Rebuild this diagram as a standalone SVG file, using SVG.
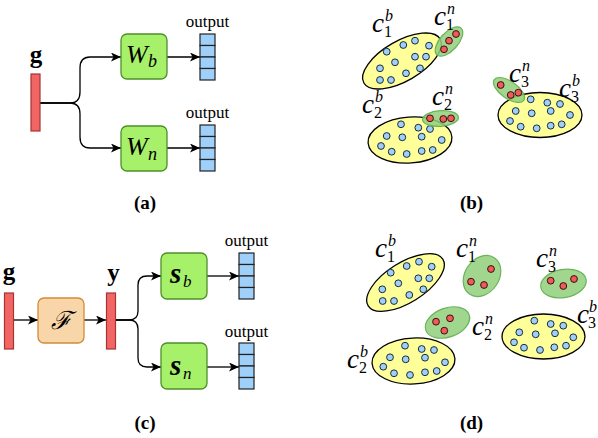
<svg xmlns="http://www.w3.org/2000/svg" width="598" height="438" viewBox="0 0 598 438">
<defs>
<style>
.bar{fill:#f26565;stroke:#a83232;stroke-width:1.2}
.gbox{fill:#a6f06a;stroke:#4f8f2a;stroke-width:1.3}
.obox{fill:#f9d6aa;stroke:#d38b36;stroke-width:1.3}
.cell{fill:#9fd0fa;stroke:#222;stroke-width:1.2}
.edge{fill:none;stroke:#000;stroke-width:1.3}
.yel{fill:#ffff99;stroke:#000;stroke-width:1.3}
.grn{fill:#8fcf7a;fill-opacity:0.85;stroke:#6bb35a;stroke-width:1.2}
.bd{fill:#9fd0fa;stroke:#1a2a40;stroke-width:1}
.rd{fill:#ef5a5a;stroke:#3a1010;stroke-width:1}
.lbl{font-family:"Liberation Serif",serif;fill:#000}
.out{font-family:"Liberation Serif",serif;font-size:17px;text-anchor:middle}
.cap{font-family:"Liberation Serif",serif;font-size:19px;font-weight:bold;text-anchor:middle}
.vec{font-family:"Liberation Serif",serif;font-size:25px;font-weight:bold;text-anchor:middle}
.c{font-family:"Liberation Serif",serif;font-size:27px;font-style:italic}
.sup{font-family:"Liberation Serif",serif;font-size:16px;font-style:italic}
.sub{font-family:"Liberation Serif",serif;font-size:16px}
</style>
<marker id="ar" markerUnits="userSpaceOnUse" markerWidth="11" markerHeight="9" refX="10" refY="4.5" orient="auto">
<path d="M0,0 L10,4.5 L0,9 L2.5,4.5 z" fill="#000"/>
</marker>
<g id="col">
<rect class="cell" x="0" y="0" width="15" height="11.5"/>
<rect class="cell" x="0" y="11.5" width="15" height="11.5"/>
<rect class="cell" x="0" y="23" width="15" height="11.5"/>
<rect class="cell" x="0" y="34.5" width="15" height="11.5"/>
</g>
</defs>

<!-- connectors -->
<g id="connectors">
<path class="edge" d="M40,103 H70 C77,103 80,99 80,92 V68 C80,61 83,57 90,57 H121" marker-end="url(#ar)"/>
<path class="edge" d="M40,103 H70 C77,103 80,107 80,114 V137 C80,144 83,148 90,148 H121" marker-end="url(#ar)"/>
<path class="edge" d="M167,57 H200" marker-end="url(#ar)"/>
<path class="edge" d="M167,148 H200" marker-end="url(#ar)"/>
<path class="edge" d="M13,320 H38" marker-end="url(#ar)"/>
<path class="edge" d="M84,320 H106" marker-end="url(#ar)"/>
<path class="edge" d="M115,320 H129 C135,320 138,317 138,311 V285 C138,279 141,276 147,276 H161" marker-end="url(#ar)"/>
<path class="edge" d="M115,320 H129 C135,320 138,323 138,329 V358 C138,364 141,367 147,367 H161" marker-end="url(#ar)"/>
<path class="edge" d="M207,276 H239" marker-end="url(#ar)"/>
<path class="edge" d="M207,367 H239" marker-end="url(#ar)"/>
</g>

<!-- (a) -->
<g id="a-g"><text class="vec" x="36" y="63">g</text><rect class="bar" x="31" y="74" width="9" height="57"/></g>
<g id="a-wb"><rect class="gbox" x="121" y="34" width="46" height="45" rx="6"/><text class="lbl" x="126" y="63" font-size="26" font-style="italic">W</text><text class="lbl" x="148" y="67" font-size="18" font-style="italic">b</text></g>
<g id="a-wn"><rect class="gbox" x="121" y="126" width="46" height="45" rx="6"/><text class="lbl" x="126" y="155" font-size="26" font-style="italic">W</text><text class="lbl" x="148" y="160" font-size="18" font-style="italic">n</text></g>
<g id="a-out1"><text class="out" x="207.5" y="27">output</text><use href="#col" x="200" y="34"/></g>
<g id="a-out2"><text class="out" x="207.5" y="118">output</text><use href="#col" x="200" y="125"/></g>
<text class="cap" x="145" y="209">(a)</text>

<!-- (c) -->
<g id="c-g"><text class="vec" x="9" y="280">g</text><rect class="bar" x="4.5" y="293" width="9" height="56"/></g>
<g id="c-f"><rect class="obox" x="38" y="298" width="46" height="45" rx="6"/><text x="61" y="329" font-family="DejaVu Serif, serif" font-size="25" font-style="italic" text-anchor="middle">ℱ</text></g>
<g id="c-y"><text class="vec" x="113.5" y="281">y</text><rect class="bar" x="106.5" y="293" width="9" height="56"/></g>
<g id="c-sb"><rect class="gbox" x="161" y="253" width="46" height="46" rx="6"/><text class="lbl" x="170" y="283" font-size="29" font-style="italic" font-weight="bold">s</text><text class="lbl" x="183" y="287" font-size="17" font-style="italic">b</text></g>
<g id="c-sn"><rect class="gbox" x="161" y="343" width="46" height="46" rx="6"/><text class="lbl" x="170" y="375" font-size="29" font-style="italic" font-weight="bold">s</text><text class="lbl" x="183" y="379" font-size="17" font-style="italic">n</text></g>
<g id="c-out1"><text class="out" x="246.5" y="246">output</text><use href="#col" x="239" y="253"/></g>
<g id="c-out2"><text class="out" x="246.5" y="337">output</text><use href="#col" x="239" y="343"/></g>
<text class="cap" x="145" y="429">(c)</text>

<!-- (b) -->
<g id="b-c1b">
<ellipse class="yel" cx="402" cy="61" rx="44" ry="20" transform="rotate(-30 402 61)"/>
<circle class="bd" cx="386.7" cy="51.7" r="3.4"/><circle class="bd" cx="403.3" cy="45" r="3.4"/><circle class="bd" cx="415" cy="40.7" r="3.4"/><circle class="bd" cx="429" cy="45.7" r="3.4"/><circle class="bd" cx="395" cy="62.3" r="3.4"/><circle class="bd" cx="415" cy="56.7" r="3.4"/><circle class="bd" cx="426" cy="56.7" r="3.4"/><circle class="bd" cx="380" cy="68.3" r="3.4"/><circle class="bd" cx="420" cy="68.3" r="3.4"/><circle class="bd" cx="406" cy="73.3" r="3.4"/><circle class="bd" cx="380" cy="80" r="3.4"/><circle class="bd" cx="391" cy="80" r="3.4"/>
<text class="c" x="372" y="32">c</text><text class="sup" x="385" y="21">b</text><text class="sub" x="384" y="37">1</text>
</g>
<g id="b-c1n">
<ellipse class="grn" cx="449" cy="41.5" rx="18" ry="9" transform="rotate(-48 449 41.5)"/>
<circle class="rd" cx="456" cy="34" r="3.4"/><circle class="rd" cx="449" cy="40.7" r="3.4"/><circle class="rd" cx="444" cy="49.3" r="3.4"/>
<text class="c" x="434" y="25">c</text><text class="sup" x="447" y="14">n</text><text class="sub" x="446" y="30">1</text>
</g>
<g id="b-c2b">
<ellipse class="yel" cx="410" cy="140" rx="42" ry="23" transform="rotate(-4 410 140)"/>
<circle class="bd" cx="401" cy="124.3" r="3.4"/><circle class="bd" cx="418.3" cy="127.7" r="3.4"/><circle class="bd" cx="430" cy="129" r="3.4"/><circle class="bd" cx="386.7" cy="136" r="3.4"/><circle class="bd" cx="402.3" cy="137.3" r="3.4"/><circle class="bd" cx="421.7" cy="136.7" r="3.4"/><circle class="bd" cx="441.7" cy="140" r="3.4"/><circle class="bd" cx="381" cy="146" r="3.4"/><circle class="bd" cx="391.7" cy="151.7" r="3.4"/><circle class="bd" cx="406.7" cy="154" r="3.4"/><circle class="bd" cx="421.7" cy="151" r="3.4"/><circle class="bd" cx="432.7" cy="150" r="3.4"/>
<text class="c" x="362" y="113">c</text><text class="sup" x="375" y="102">b</text><text class="sub" x="374" y="118">2</text>
</g>
<g id="b-c2n">
<ellipse class="grn" cx="440.5" cy="118.5" rx="18" ry="7.8" transform="rotate(-4 440.5 118.5)"/>
<circle class="rd" cx="430" cy="118.3" r="3.4"/><circle class="rd" cx="443.3" cy="119" r="3.4"/><circle class="rd" cx="451" cy="118.3" r="3.4"/>
<text class="c" x="432" y="105">c</text><text class="sup" x="445" y="94">n</text><text class="sub" x="444" y="110">2</text>
</g>
<g id="b-c3b">
<ellipse class="yel" cx="540" cy="115" rx="42" ry="22.5"/>
<circle class="bd" cx="530.7" cy="99.3" r="3.4"/><circle class="bd" cx="547.3" cy="102.7" r="3.4"/><circle class="bd" cx="560" cy="104" r="3.4"/><circle class="bd" cx="515.7" cy="111" r="3.4"/><circle class="bd" cx="531.7" cy="113.3" r="3.4"/><circle class="bd" cx="550.7" cy="111" r="3.4"/><circle class="bd" cx="570" cy="115" r="3.4"/><circle class="bd" cx="510" cy="121" r="3.4"/><circle class="bd" cx="520.7" cy="126.7" r="3.4"/><circle class="bd" cx="536.7" cy="128.3" r="3.4"/><circle class="bd" cx="550.7" cy="125.7" r="3.4"/><circle class="bd" cx="561.7" cy="124.3" r="3.4"/>
<text class="c" x="559" y="97">c</text><text class="sup" x="572" y="86">b</text><text class="sub" x="571" y="102">3</text>
</g>
<g id="b-c3n">
<ellipse class="grn" cx="509" cy="90" rx="18" ry="8.5" transform="rotate(35 509 90)"/>
<circle class="rd" cx="500.7" cy="85" r="3.4"/><circle class="rd" cx="510.7" cy="95" r="3.4"/><circle class="rd" cx="518.3" cy="92.7" r="3.4"/>
<text class="c" x="509" y="82">c</text><text class="sup" x="522" y="71">n</text><text class="sub" x="521" y="87">3</text>
</g>
<text class="cap" x="471.5" y="209">(b)</text>

<!-- (d) -->
<g id="d-c1b">
<ellipse class="yel" cx="405.5" cy="282.5" rx="44" ry="20" transform="rotate(-32 405.5 282.5)"/>
<circle class="bd" cx="390.7" cy="272.7" r="3.4"/><circle class="bd" cx="406.7" cy="266" r="3.4"/><circle class="bd" cx="419" cy="261.7" r="3.4"/><circle class="bd" cx="431.7" cy="266.7" r="3.4"/><circle class="bd" cx="398.3" cy="283.3" r="3.4"/><circle class="bd" cx="418.3" cy="278.3" r="3.4"/><circle class="bd" cx="429.3" cy="278.3" r="3.4"/><circle class="bd" cx="382.3" cy="289.3" r="3.4"/><circle class="bd" cx="423.3" cy="289.3" r="3.4"/><circle class="bd" cx="409.3" cy="295" r="3.4"/><circle class="bd" cx="382.7" cy="301" r="3.4"/><circle class="bd" cx="394" cy="301" r="3.4"/>
<text class="c" x="375" y="257">c</text><text class="sup" x="388" y="246">b</text><text class="sub" x="387" y="262">1</text>
</g>
<g id="d-c1n">
<ellipse class="grn" cx="482" cy="276" rx="22" ry="17" transform="rotate(-55 482 276)"/>
<circle class="rd" cx="491" cy="269" r="3.4"/><circle class="rd" cx="471" cy="281.7" r="3.4"/><circle class="rd" cx="484" cy="285" r="3.4"/>
<text class="c" x="456" y="257">c</text><text class="sup" x="469" y="246">n</text><text class="sub" x="468" y="262">1</text>
</g>
<g id="d-c2n">
<ellipse class="grn" cx="447.5" cy="322.5" rx="23" ry="14.5" transform="rotate(-20 447.5 322.5)"/>
<circle class="rd" cx="436" cy="321.7" r="3.4"/><circle class="rd" cx="450" cy="318.3" r="3.4"/><circle class="rd" cx="444.3" cy="330.7" r="3.4"/>
<text class="c" x="472" y="335">c</text><text class="sup" x="485" y="324">n</text><text class="sub" x="484" y="340">2</text>
</g>
<g id="d-c3n">
<ellipse class="grn" cx="563.5" cy="283.5" rx="23" ry="14" transform="rotate(-10 563.5 283.5)"/>
<circle class="rd" cx="550.7" cy="280.7" r="3.4"/><circle class="rd" cx="563.3" cy="286" r="3.4"/><circle class="rd" cx="574" cy="279" r="3.4"/>
<text class="c" x="536" y="267">c</text><text class="sup" x="549" y="256">n</text><text class="sub" x="548" y="272">3</text>
</g>
<g id="d-c2b">
<ellipse class="yel" cx="413.5" cy="361" rx="41.5" ry="23" transform="rotate(-3 413.5 361)"/>
<circle class="bd" cx="405" cy="345.7" r="3.4"/><circle class="bd" cx="421.7" cy="349" r="3.4"/><circle class="bd" cx="434" cy="350" r="3.4"/><circle class="bd" cx="390" cy="357.3" r="3.4"/><circle class="bd" cx="405.7" cy="359.3" r="3.4"/><circle class="bd" cx="425" cy="357.7" r="3.4"/><circle class="bd" cx="445" cy="362.3" r="3.4"/><circle class="bd" cx="383.3" cy="366.7" r="3.4"/><circle class="bd" cx="394" cy="373.3" r="3.4"/><circle class="bd" cx="410" cy="375" r="3.4"/><circle class="bd" cx="425" cy="372.3" r="3.4"/><circle class="bd" cx="436.7" cy="371" r="3.4"/>
<text class="c" x="347" y="368">c</text><text class="sup" x="360" y="357">b</text><text class="sub" x="359" y="373">2</text>
</g>
<g id="d-c3b">
<ellipse class="yel" cx="543.5" cy="336.5" rx="41.5" ry="22.5"/>
<circle class="bd" cx="534.3" cy="320.7" r="3.4"/><circle class="bd" cx="550.7" cy="324" r="3.4"/><circle class="bd" cx="563.3" cy="325.7" r="3.4"/><circle class="bd" cx="519.3" cy="332.3" r="3.4"/><circle class="bd" cx="535.7" cy="334.3" r="3.4"/><circle class="bd" cx="555" cy="333.3" r="3.4"/><circle class="bd" cx="573.3" cy="337.3" r="3.4"/><circle class="bd" cx="514" cy="342.3" r="3.4"/><circle class="bd" cx="524" cy="347.7" r="3.4"/><circle class="bd" cx="540" cy="350" r="3.4"/><circle class="bd" cx="554.3" cy="347.3" r="3.4"/><circle class="bd" cx="566" cy="345.7" r="3.4"/>
<text class="c" x="577" y="323">c</text><text class="sup" x="589" y="312">b</text><text class="sub" x="588" y="328">3</text>
</g>
<text class="cap" x="471.5" y="429">(d)</text>
</svg>
